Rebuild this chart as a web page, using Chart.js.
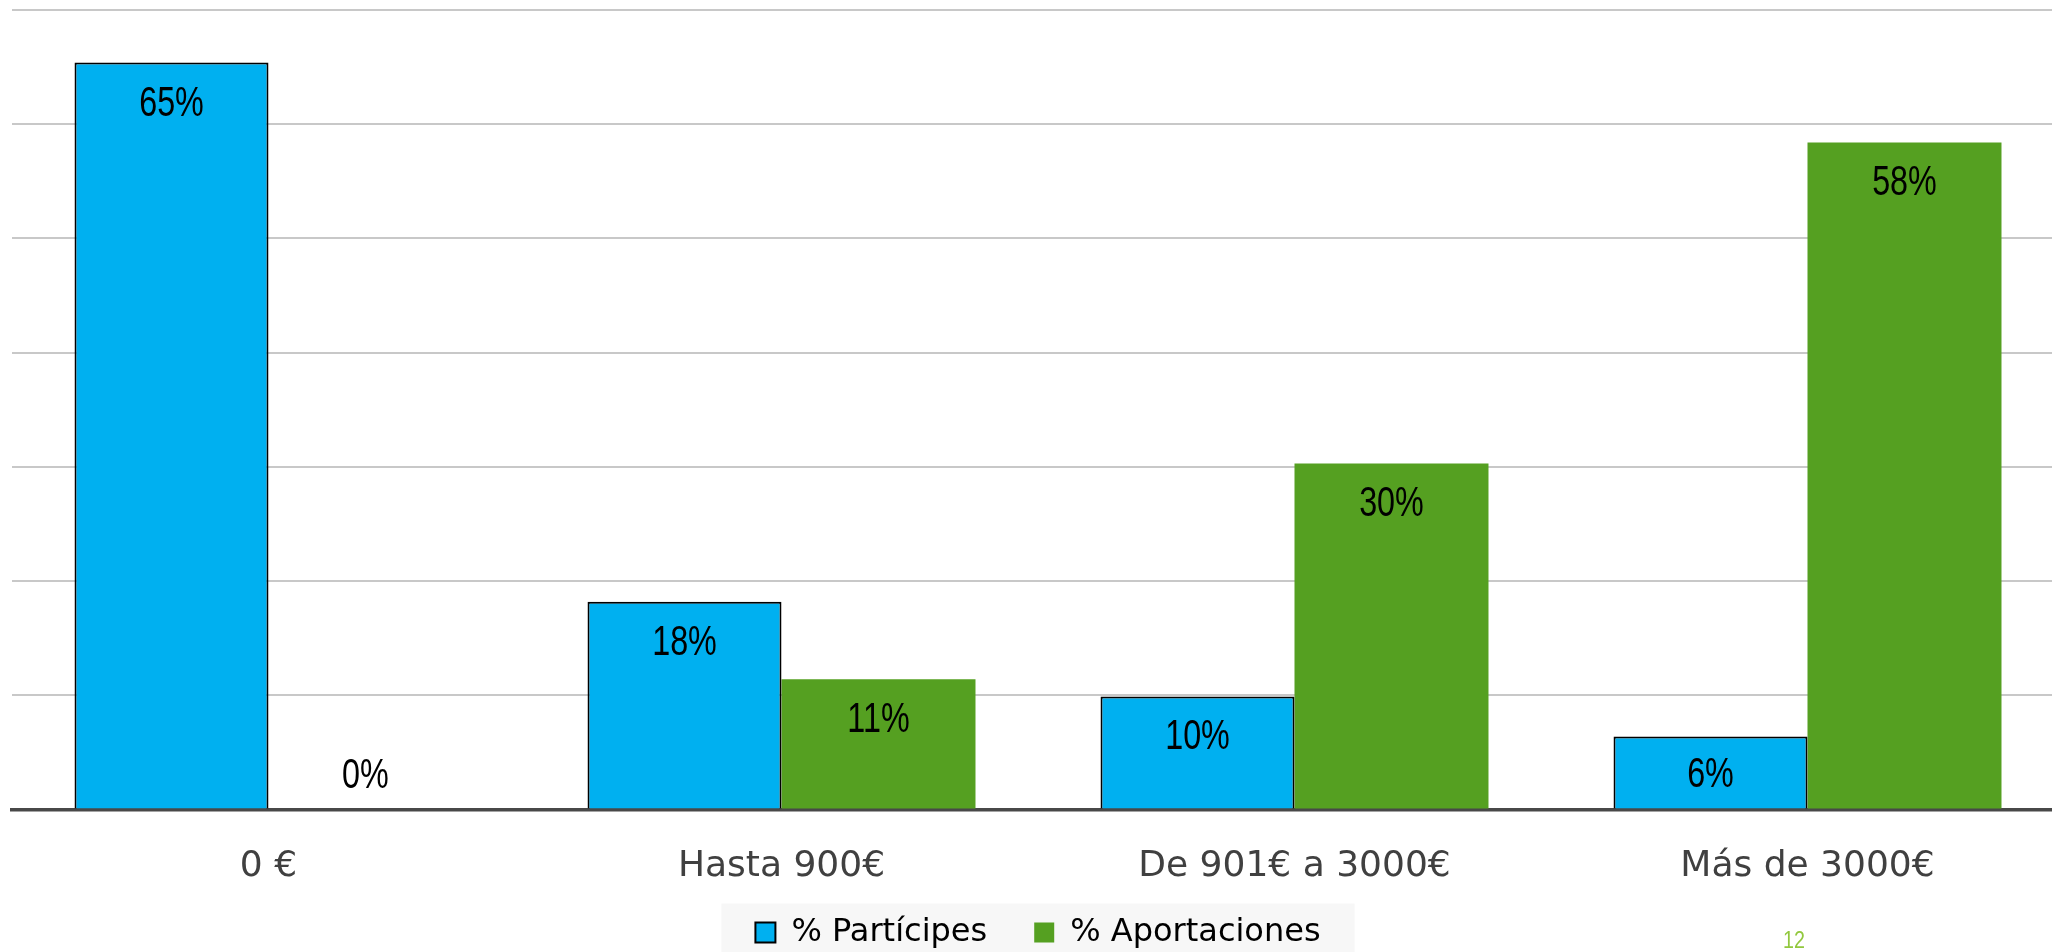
<!DOCTYPE html>
<html>
<head>
<meta charset="utf-8">
<script src="https://cdn.jsdelivr.net/npm/chart.js@4/dist/chart.umd.min.js"></script>
<style>
  html, body { margin: 0; padding: 0; background: #ffffff; overflow: hidden; width: 2052px; height: 952px; }
  #wrap { position: absolute; left: 0; top: 0; width: 2064px; height: 980px; }
  canvas { display: block; }
</style>
</head>
<body>
<div id="wrap"><canvas id="c" width="2064" height="980" style="width:2064px;height:980px"></canvas></div>
<script>
// ---- data ----
const categories = ['0 €', 'Hasta 900€', 'De 901€ a 3000€', 'Más de 3000€'];
const seriesNames = ['% Partícipes', '% Aportaciones'];
const participes = [65.4, 18.2, 9.9, 6.4];
const aportaciones = [0, 11.4, 30.3, 58.4];
const yTicks = [0, 10, 20, 30, 40, 50, 60, 70];
const pageNumber = '12';

const SANS = "'Liberation Sans', Arial, sans-serif";

function narrowText(ctx, text, x, y, size, scaleX, color, align) {
  ctx.save();
  ctx.font = size + 'px ' + SANS;
  ctx.fillStyle = color;
  ctx.textAlign = align;
  ctx.textBaseline = 'alphabetic';
  ctx.translate(x, y);
  ctx.scale(scaleX, 1);
  ctx.fillText(text, 0, 0);
  ctx.restore();
}

const dataLabelPlugin = {
  id: 'dataLabels',
  afterDatasetsDraw(chart) {
    const ctx = chart.ctx;
    chart.data.datasets.forEach((ds, di) => {
      const meta = chart.getDatasetMeta(di);
      meta.data.forEach((el, i) => {
        const v = ds.data[i];
        const y = Math.min(el.y + 53, el.base - 21.5);
        narrowText(ctx, Math.round(v) + '%', el.x, y, 42, 0.77, '#000000', 'center');
      });
    });
  }
};

const legendShiftPlugin = {
  id: 'legendShift',
  afterLayout(chart) {
    const lg = chart.legend;
    if (!lg) return;
    const h = lg.bottom - lg.top;
    lg.top = 869.5;
    lg.bottom = lg.top + h;
  }
};

const legendBgPlugin = {
  id: 'legendBg',
  beforeDraw(chart) {
    const lg = chart.legend;
    if (!lg || !lg.legendHitBoxes || !lg.legendHitBoxes.length) return;
    const hb = lg.legendHitBoxes;
    const first = hb[0], last = hb[hb.length - 1];
    const left = first.left - 34;
    const right = last.left + last.width + 34;
    const top = first.top - 13;
    const ctx = chart.ctx;
    ctx.save();
    ctx.fillStyle = '#F7F7F7';
    ctx.fillRect(left, top, right - left, chart.height - top);
    ctx.restore();
  }
};

const pageNumPlugin = {
  id: 'pageNum',
  afterDraw(chart) {
    narrowText(chart.ctx, pageNumber, 1783, 948, 24, 0.82, '#92C83E', 'left');
  }
};

new Chart(document.getElementById('c'), {
  type: 'bar',
  data: {
    labels: categories,
    datasets: [
      {
        label: seriesNames[0],
        data: participes,
        backgroundColor: '#00B0F0',
        borderColor: '#000000',
        borderWidth: 2,
        categoryPercentage: 0.7563,
        barPercentage: 1.0
      },
      {
        label: seriesNames[1],
        data: aportaciones,
        backgroundColor: '#55A021',
        borderColor: '#55A021',
        borderWidth: 0,
        categoryPercentage: 0.7563,
        barPercentage: 1.0
      }
    ]
  },
  options: {
    responsive: false,
    animation: false,
    devicePixelRatio: 1,
    layout: { padding: { left: 12, right: 0, top: 10, bottom: 0 } },
    plugins: {
      tooltip: { enabled: false },
      title: { display: false },
      legend: {
        display: true,
        position: 'bottom',
        labels: {
          boxWidth: 20,
          boxHeight: 20,
          padding: 47,
          color: '#000000',
          font: { family: "'DejaVu Sans', sans-serif", size: 32 }
        }
      }
    },
    scales: {
      x: {
        grid: { display: false, drawTicks: false },
        border: { display: true, color: '#484848', width: 3.5 },
        ticks: {
          color: '#404040',
          padding: 36,
          maxRotation: 0,
          autoSkip: false,
          font: { family: "'DejaVu Sans', sans-serif", size: 36 }
        },
        afterFit(axis) { axis.height = 81.5; }
      },
      y: {
        min: yTicks[0],
        max: yTicks[yTicks.length - 1],
        afterBuildTicks(axis) { axis.ticks = yTicks.map(v => ({ value: v })); },
        grid: {
          color: (c) => (c.tick && c.tick.value === 0) ? 'rgba(0,0,0,0)' : '#C8C8C8',
          lineWidth: 2,
          drawTicks: false
        },
        border: { display: false },
        ticks: { display: false }
      }
    }
  },
  plugins: [legendShiftPlugin, legendBgPlugin, dataLabelPlugin, pageNumPlugin]
});
</script>
</body>
</html>
